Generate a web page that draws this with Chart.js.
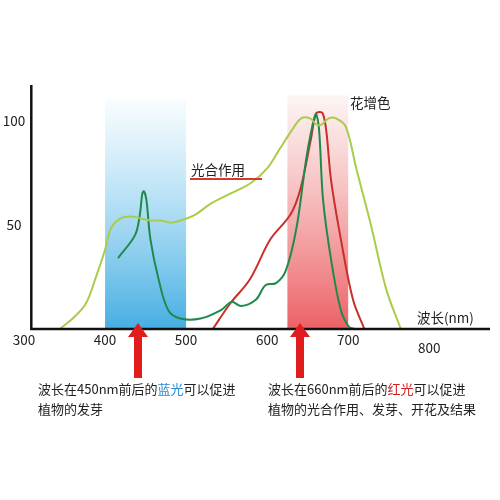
<!DOCTYPE html><html><head><meta charset="utf-8"><script src="https://cdn.jsdelivr.net/npm/chart.js@4"></script>
<style>body{margin:0;background:#fff}#w{width:500px;height:500px}</style></head><body><div id="w"><canvas id="c"></canvas></div><script>
const xTicks=[300,400,500,600,700,800];
const yTicks=[50,100];
const lightNm=[344,360,376,388,400,407,419,432,444,456,468,481,493,512,530,555,580,600,615,630,642,653,661,667,676,685,697,710,728,747,765];
const lightV=[0,5,12,24,38,48,53,54,53,52,52,51,52,55,60,65,70,77,86,95,101,101,98,98,101,101,97,77,50,19,0];
const darkNm=[416,437,443,446,448,451,456,466,478,493,518,543,556,568,586,598,611,623,636,648,654,660,664,669,679,691,701,708];
const darkV=[34,45,55,65,66,62,43,24,9,5,5,9,13,11,14,21,22,28,48,81,94,103,96,62,33,9,1,0];
const redNm=[533,554,579,604,629,641,654,660,665,669,673,679,691,706,720];
const redV=[0,12,24,43,55,67,91,103,104,103,95,71,43,14,0];
const toPts=(a,b)=>a.map((x,i)=>({x,y:b[i]}));
const deco={id:'deco',
beforeDatasetsDraw(ch){const {ctx,scales:{x,y}}=ch;
 const band=(a,b,top,c1,c2)=>{const x1=x.getPixelForValue(a),x2=x.getPixelForValue(b),t=y.getPixelForValue(top),bt=y.getPixelForValue(0);
  const g=ctx.createLinearGradient(0,t,0,bt);g.addColorStop(0,c1);g.addColorStop(1,c2);ctx.fillStyle=g;ctx.fillRect(x1,t,x2-x1,bt-t);};
 band(400,500,110,'rgba(120,200,240,0.05)','rgba(60,170,225,0.95)');
 band(625,700,112,'rgba(235,120,120,0.08)','rgba(235,80,85,0.9)');},
afterDatasetsDraw(ch){const {ctx,scales:{x,y}}=ch;ctx.save();
 const x0=x.getPixelForValue(309),y0=y.getPixelForValue(0);
 ctx.strokeStyle='#111';ctx.lineWidth=2.5;ctx.beginPath();ctx.moveTo(x0,y.getPixelForValue(117));ctx.lineTo(x0,y0);ctx.lineTo(ch.chartArea.right,y0);ctx.stroke();
 ctx.fillStyle='#222';ctx.font='13.5px "Noto Sans CJK SC", sans-serif';ctx.textAlign='center';ctx.textBaseline='middle';
 xTicks.forEach((v,i)=>ctx.fillText(String(v),x.getPixelForValue(v),i==5?348:340));
 yTicks.forEach(v=>ctx.fillText(String(v),14,y.getPixelForValue(v)));
 ctx.textAlign='left';ctx.fillText('波长(nm)',417,318);ctx.fillText('花增色',350,103);ctx.fillText('光合作用',191,170);
 ctx.strokeStyle='#d23a30';ctx.lineWidth=2;ctx.beginPath();ctx.moveTo(190,179);ctx.lineTo(262,179);ctx.stroke();
 const arrow=cx=>{ctx.fillStyle='#e01c1c';ctx.beginPath();ctx.moveTo(cx,323);ctx.lineTo(cx+10,337);ctx.lineTo(cx+4,337);ctx.lineTo(cx+4,378);ctx.lineTo(cx-4,378);ctx.lineTo(cx-4,337);ctx.lineTo(cx-10,337);ctx.closePath();ctx.fill();};
 arrow(138);arrow(300);
 const seg=(parts,x0,yy)=>{let cx=x0;parts.forEach(([t,c])=>{ctx.fillStyle=c;ctx.fillText(t,cx,yy);cx+=ctx.measureText(t).width;});};
 ctx.font='13px "Noto Sans CJK SC", sans-serif';
 seg([['波长在450nm前后的','#222'],['蓝光','#2a8ad0'],['可以促进','#222']],38,389);
 seg([['植物的发芽','#222']],38,409);
 seg([['波长在660nm前后的','#222'],['红光','#d02020'],['可以促进','#222']],268,389);
 seg([['植物的光合作用、发芽、开花及结果','#222']],268,409);
 ctx.restore();}};
new Chart(document.getElementById('c'),{type:'scatter',
data:{datasets:[
{data:toPts(lightNm,lightV),showLine:true,borderColor:'#a9cc4a',borderWidth:2,pointRadius:0,tension:0.35},
{data:toPts(darkNm,darkV),showLine:true,borderColor:'#1f8a4c',borderWidth:2,pointRadius:0,tension:0.35},
{data:toPts(redNm,redV),showLine:true,borderColor:'#c8302a',borderWidth:2,pointRadius:0,tension:0.35}]},
options:{responsive:true,maintainAspectRatio:false,animation:false,layout:{padding:{left:24,right:10,top:85,bottom:171}},
plugins:{legend:{display:false},tooltip:{enabled:false}},
scales:{x:{type:'linear',min:300,max:875,display:false},y:{min:0,max:117,display:false}}},
plugins:[deco]});
</script></body></html>
